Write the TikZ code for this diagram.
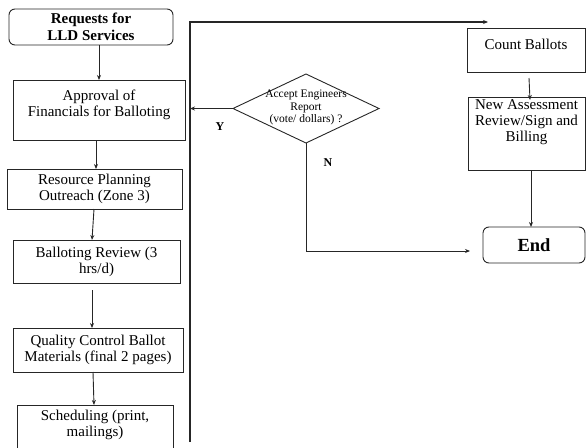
\documentclass[tikz,border=0pt]{standalone}
\usepackage{fontspec}
\setmainfont{Liberation Serif}
\usetikzlibrary{shapes.geometric,arrows.meta}
\begin{document}
\begin{tikzpicture}[x=1pt,y=-1pt,
  every node/.style={inner sep=0pt, outer sep=0pt},
  box/.style={draw=black!85, line width=0.9pt, fill=white, align=center,
    font=\fontsize{15}{16}\selectfont},
  rbox/.style={box, rounded corners=6pt},
  txt/.style={align=center, font=\fontsize{15}{16}\selectfont},
  arr/.style={draw=black!85, line width=0.9pt, -{Stealth[length=5pt,width=4pt]}},
  lbl/.style={font=\fontsize{12}{14}\selectfont\bfseries},
  dec/.style={draw=black!85, line width=0.9pt, diamond, shape aspect=2.1,
    minimum width=146pt, minimum height=69pt}]
\useasboundingbox (0,0) rectangle (586,447);
\clip (0,0) rectangle (586,447);

% left column of process steps
\node[rbox, minimum width=164pt, minimum height=36pt, font=\fontsize{15}{17}\selectfont\bfseries]
  (req) at (91,27) {Requests for\\LLD Services};
\node[box, minimum width=172pt, minimum height=60pt] (app) at (99,110) {};
\node[txt] (appT) at (99,105) {Approval of\\Financials for Balloting};
\node[box, minimum width=175pt, minimum height=40pt] (res) at (94.5,189) {Resource Planning\\Outreach (Zone 3)};
\node[box, minimum width=167pt, minimum height=43pt] (bal) at (96.5,261.5) {Balloting Review (3\\hrs/d)};
\node[box, minimum width=170pt, minimum height=44pt] (qc) at (98,350) {Quality Control Ballot\\Materials (final 2 pages)};
\node[box, minimum width=156pt, minimum height=60pt, anchor=north] (sch) at (95,405) {};
\node[txt] (schT) at (95,425) {Scheduling (print,\\mailings)};

% decision
\node[dec] (dia) at (306,108.5) {};
\node[align=center, font=\fontsize{11.5}{12.5}\selectfont] (diaT) at (306,107.5)
  {Accept Engineers\\Report\\(vote/ dollars) ?};
\node[lbl] (yes) at (220,127) {Y};
\node[lbl] (no) at (328,163) {N};

% right column
\node[box, minimum width=118pt, minimum height=44pt] (count) at (526,50) {};
\node[txt] (countT) at (526,44) {Count Ballots};
\node[box, minimum width=117pt, minimum height=73pt] (new) at (526.5,133.5) {};
\node[txt] (newT) at (526.5,122) {New Assessment\\Review/Sign and\\Billing};
\node[rbox, minimum width=102pt, minimum height=36pt, font=\fontsize{18.5}{20}\selectfont\bfseries]
  (end) at (534,245) {End};

% loop line along the left column
\coordinate (loopB) at (190,442);
\coordinate (loopT) at (190,22);
\coordinate (cntIn) at (488,22);

% connectors
\draw[arr] (req.south -| app) -- (app.north);
\draw[arr] ([xshift=-3pt]app.south) -- ([xshift=-3pt]app.south |- res.north);
\draw[arr] ([xshift=-0.5pt]res.south) -- ([xshift=-4.5pt]bal.north);
\draw[arr] ([xshift=-4.5pt,yshift=-7pt]bal.south) -- ([xshift=-6pt]qc.north);
\draw[arr] ([xshift=-5pt]qc.south) -- ([xshift=-1pt]sch.north);
\draw[arr, line width=1.1pt] (loopB) -- (loopT) -- (cntIn);
\draw[arr] (dia.west) -- (dia.west -| loopT);
\draw[arr] (dia.south) |- ([xshift=-13pt,yshift=-6pt]end.west);
\draw[arr] ([xshift=3pt,yshift=-6pt]count.south) -- ([xshift=3.5pt,yshift=-3pt]new.north);
\draw[arr] ([xshift=4.5pt]new.south) -- ([xshift=-3pt]end.north);
\end{tikzpicture}
\end{document}
